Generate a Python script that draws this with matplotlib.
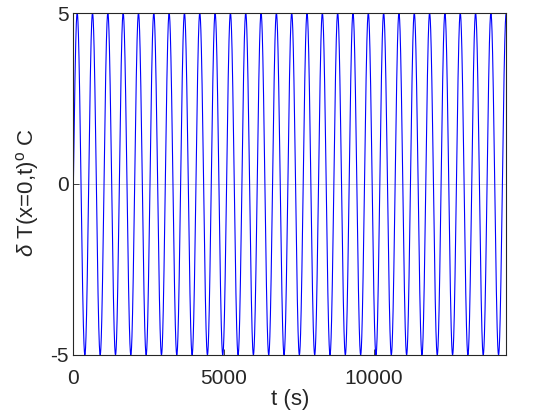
import matplotlib
matplotlib.use('Agg')
import matplotlib.pyplot as plt
import numpy as np

# surface temperature oscillation
amplitude = 5.0        # deg C
period = 509.7         # s, about 28.25 cycles over the record
t_end = 14400.0        # s
n_samples = 6000

xticks = [0, 5000, 10000]
yticks = [-5, 0, 5]

t = np.linspace(0, t_end, n_samples)
dT = amplitude * np.sin(2 * np.pi * t / period)

plt.rcParams['font.family'] = ['Liberation Sans', 'DejaVu Sans']
plt.rcParams['mathtext.fontset'] = 'custom'
plt.rcParams['mathtext.rm'] = 'Liberation Sans'
plt.rcParams['mathtext.it'] = 'Liberation Sans:italic'

fig = plt.figure(figsize=(5.6, 4.2), dpi=100)
ax = fig.add_axes([0.131, 0.155, 0.773, 0.814])
ax.axhline(0, color='#d0d0d0', lw=0.6, zorder=1)
ax.plot(t, dT, color='blue', lw=0.8, zorder=2)

ax.set_xlim(0, t_end)
ax.set_ylim(-5, 5)
ax.set_xticks(xticks)
ax.set_yticks(yticks)
ax.set_xticklabels([str(v) for v in xticks])
ax.set_yticklabels([str(v) for v in yticks])
ax.tick_params(direction='in', labelsize=15, length=4, width=0.6,
               top=False, right=False, colors='#262626')
ax.tick_params(axis='x', pad=10)
for s in ax.spines.values():
    s.set_linewidth(0.8)
    s.set_color('#262626')

ax.set_xlabel('t (s)', fontsize=16, color='#262626', labelpad=1)
ax.set_ylabel(r'$\delta$ T(x=0,t)$^{\rm o}$ C', fontsize=16, color='#262626', labelpad=4)
ax.yaxis.set_label_coords(-0.075, 0.474)

plt.savefig('out.png', dpi=100)
